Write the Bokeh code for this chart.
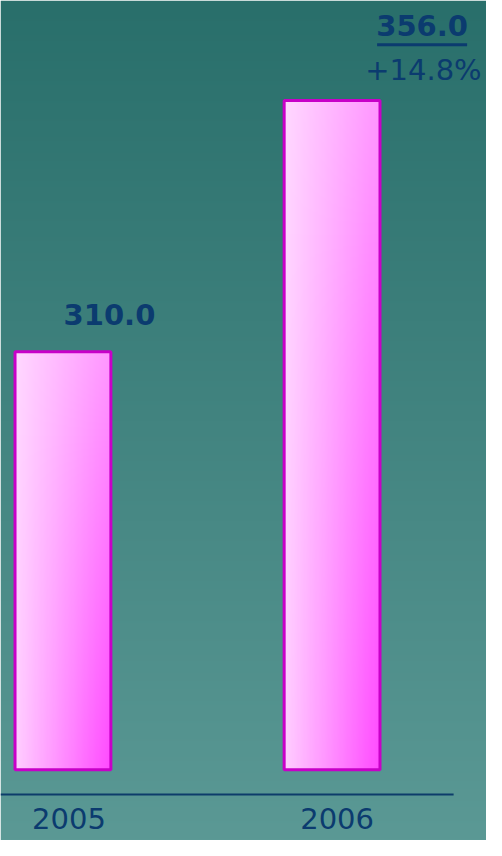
import numpy as np
from bokeh.plotting import figure
from bokeh.models import Range1d, Label
from bokeh.embed import file_html
from bokeh.resources import INLINE

# ---- data ----
years = ["2005", "2006"]
values = [310.0, 356.0]
value_labels = ["310.0", "356.0"]
growth_label = "+14.8%"

# ---- layout (screen px) ----
W, H = 486, 840
PX_X = 269.14           # pixels per category step
PX_Y = 5.4612           # pixels per value unit
X0 = -62.44 / PX_X
Y_TOP = values[1] + 100.09 / PX_Y
x_start, x_end = X0, X0 + W / PX_X
y_end, y_start = Y_TOP, Y_TOP - H / PX_Y
BASE = Y_TOP - 769.35 / PX_Y
AXIS_Y = Y_TOP - 793.9 / PX_Y
AXIS_X_END = X0 + 453.1 / PX_X
BAR_W = 95.84 / PX_X
xs = list(range(len(years)))

TEXT = "#0b3b6f"
FONT = "DejaVu Sans"
SHIFT = 12  # compensation for baseline placement

p = figure(width=W, height=H, output_backend="svg", toolbar_location=None,
           x_range=Range1d(x_start, x_end), y_range=Range1d(y_start, y_end),
           min_border=0, min_border_left=0, min_border_right=0,
           min_border_top=0, min_border_bottom=0)
p.axis.visible = False
p.grid.visible = False
p.outline_line_color = None
p.border_fill_color = None


def rgba(r, g, b):
    ny, nx = g.shape
    arr = np.empty((ny, nx), dtype=np.uint32)
    view = arr.view(dtype=np.uint8).reshape((ny, nx, 4))
    view[..., 0] = r
    view[..., 1] = g
    view[..., 2] = b
    view[..., 3] = 255
    return arr


# background vertical gradient (row 0 = bottom)
t = np.linspace(0, 1, 420)[:, None]  # 0 bottom -> 1 top
top_c = np.array([41, 111, 107])
bot_c = np.array([91, 153, 149])
bg_r = (bot_c[0] + (top_c[0] - bot_c[0]) * t).astype(np.uint8)
bg_g = (bot_c[1] + (top_c[1] - bot_c[1]) * t).astype(np.uint8)
bg_b = (bot_c[2] + (top_c[2] - bot_c[2]) * t).astype(np.uint8)
bg = rgba(bg_r, bg_g, bg_b)
p.image_rgba(image=[bg], x=x_start, y=y_start, dw=x_end - x_start, dh=y_end - y_start)

# bar gradients (diagonal: light top-left -> saturated bottom-right)
nx, ny = 80, 240
u = np.linspace(0, 1, nx)[None, :]
v = np.linspace(0, 1, ny)[:, None]
gch = 216 - 10 * (1 - v) - 132 * u * (0.5 + 0.5 * (1 - v))
gch = np.clip(gch, 0, 255).astype(np.uint8)
rch = np.full_like(gch, 255)
bch = np.full_like(gch, 255)
bar_img = rgba(rch, gch, bch)
for i, val in zip(xs, values):
    p.image_rgba(image=[bar_img], x=i - BAR_W / 2, y=BASE, dw=BAR_W, dh=val - BASE)

p.vbar(x=xs, top=values, bottom=BASE, width=BAR_W, fill_color=None,
       line_color="#c800c8", line_width=3)

# axis line
p.segment(x0=[x_start], y0=[AXIS_Y], x1=[AXIS_X_END], y1=[AXIS_Y],
          line_color="#0d3c6a", line_width=2)

# year labels
for i, yr, dx in zip(xs, years, [6, 5]):
    p.add_layout(Label(x=i, y=AXIS_Y, text=yr, x_offset=dx, y_offset=-36 + SHIFT,
                       text_align="center", text_baseline="alphabetic",
                       text_font=FONT, text_font_size="29px", text_color=TEXT))

# value labels
p.add_layout(Label(x=xs[0], y=values[0], text=value_labels[0], x_offset=46.5,
                   y_offset=25.5 + SHIFT,
                   text_align="center", text_baseline="alphabetic", text_font=FONT,
                   text_font_size="29px", text_font_style="bold", text_color=TEXT))
p.add_layout(Label(x=xs[1], y=values[1], text=value_labels[1], x_offset=90,
                   y_offset=62.8 + SHIFT,
                   text_align="center", text_baseline="alphabetic", text_font=FONT,
                   text_font_size="29px", text_font_style="bold", text_color=TEXT))
p.add_layout(Label(x=xs[1], y=values[1], text=growth_label, x_offset=149.6,
                   y_offset=18.7 + SHIFT,
                   text_align="right", text_baseline="alphabetic", text_font=FONT,
                   text_font_size="29px", text_color=TEXT))

# underline of the 2006 value
ux0 = xs[1] + (376.6 - 331.58) / PX_X
ux1 = xs[1] + (466.6 - 331.58) / PX_X
uy = Y_TOP - 44.2 / PX_Y
p.segment(x0=[ux0], y0=[uy], x1=[ux1], y1=[uy], line_color=TEXT, line_width=3)

open("out.html", "w").write(file_html(p, INLINE))
